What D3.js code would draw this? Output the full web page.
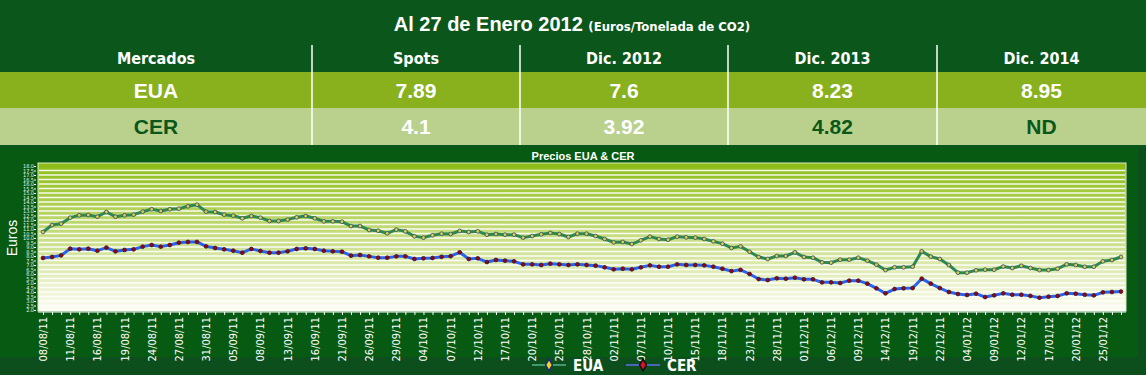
<!DOCTYPE html>
<html>
<head>
<meta charset="utf-8">
<script src="https://cdn.jsdelivr.net/npm/d3@7"></script>
<style>
  body { margin: 0; background: #0c4f1d; }
  svg { display: block; }
  .cond { font-family: "Liberation Sans Narrow", "DejaVu Sans Condensed", "Liberation Sans", sans-serif; }
  .bold { font-family: "Liberation Sans", Arial, sans-serif; font-weight: bold; }
</style>
</head>
<body>
<div id="chart"></div>
<script>
// summary table
const tableCols = ["Mercados", "Spots", "Dic. 2012", "Dic. 2013", "Dic. 2014"];
const euaRow = ["EUA", "7.89", "7.6", "8.23", "8.95"];
const cerRow = ["CER", "4.1", "3.92", "4.82", "ND"];

// x tick labels, one every third trading day
const tickLabels = ["08/08/11", "11/08/11", "16/08/11", "19/08/11", "24/08/11", "27/08/11", "31/08/11",
  "05/09/11", "08/09/11", "13/09/11", "16/09/11", "21/09/11", "26/09/11", "29/09/11", "04/10/11",
  "07/10/11", "12/10/11", "17/10/11", "20/10/11", "25/10/11", "28/10/11", "02/11/11", "07/11/11",
  "10/11/11", "15/11/11", "18/11/11", "23/11/11", "28/11/11", "01/12/11", "06/12/11", "09/12/11",
  "14/12/11", "19/12/11", "22/12/11", "04/01/12", "09/01/12", "12/01/12", "17/01/12", "20/01/12",
  "25/01/12"];

// daily prices (Euros)
const euaValues = [10.67, 11.44, 11.59, 12.26, 12.52, 12.56, 12.37, 12.89, 12.37, 12.52,
  12.59, 12.93, 13.19, 13.0, 13.19, 13.26, 13.52, 13.70, 12.93, 12.89,
  12.59, 12.48, 12.19, 12.44, 12.26, 11.89, 11.89, 12.04, 12.30, 12.44,
  12.19, 11.85, 11.85, 11.81, 11.33, 11.33, 10.89, 10.81, 10.52, 10.93,
  10.74, 10.19, 10.04, 10.30, 10.48, 10.44, 10.78, 10.67, 10.74, 10.37,
  10.44, 10.37, 10.37, 10.04, 10.22, 10.41, 10.56, 10.44, 10.11, 10.48,
  10.48, 10.22, 9.89, 9.52, 9.56, 9.33, 9.74, 10.15, 9.89, 9.81,
  10.15, 10.07, 10.04, 9.89, 9.63, 9.37, 8.89, 9.07, 8.48, 7.89,
  7.67, 8.0, 8.0, 8.41, 7.89, 7.81, 7.30, 7.26, 7.59, 7.59,
  7.81, 7.48, 7.04, 6.44, 6.74, 6.74, 6.81, 8.52, 7.93, 7.67,
  7.0, 6.15, 6.15, 6.41, 6.48, 6.48, 6.83, 6.67, 6.91, 6.67,
  6.44, 6.44, 6.59, 7.07, 7.0, 6.81, 6.81, 7.41, 7.56, 7.89];
const cerValues = [7.78, 7.89, 8.07, 8.81, 8.74, 8.81, 8.59, 8.93, 8.52, 8.67,
  8.74, 9.04, 9.22, 9.04, 9.22, 9.48, 9.56, 9.56, 9.07, 8.89,
  8.74, 8.59, 8.37, 8.78, 8.56, 8.37, 8.37, 8.52, 8.78, 8.85,
  8.78, 8.59, 8.52, 8.48, 8.04, 8.11, 7.96, 7.81, 7.81, 7.96,
  7.96, 7.67, 7.74, 7.78, 7.91, 7.98, 8.41, 7.67, 7.74, 7.33,
  7.56, 7.48, 7.41, 7.07, 7.07, 7.0, 7.15, 7.07, 7.0, 7.07,
  7.0, 6.93, 6.74, 6.52, 6.59, 6.52, 6.74, 6.96, 6.81, 6.81,
  7.07, 7.0, 7.0, 6.96, 6.81, 6.59, 6.32, 6.46, 6.0, 5.44,
  5.33, 5.52, 5.48, 5.59, 5.41, 5.41, 5.07, 5.07, 5.0, 5.26,
  5.26, 4.93, 4.41, 3.85, 4.33, 4.41, 4.44, 5.48, 4.93, 4.44,
  4.0, 3.78, 3.67, 3.81, 3.44, 3.63, 3.85, 3.70, 3.70, 3.57,
  3.37, 3.48, 3.56, 3.85, 3.81, 3.70, 3.63, 3.96, 4.0, 4.05];

const yTicks = d3.range(2, 18.01, 0.5);

const W = 1146, H = 375;
const svg = d3.select("#chart").append("svg").attr("width", W).attr("height", H);

// ---------- header / table ----------
svg.append("rect").attr("width", W).attr("height", 148).attr("fill", "#0b561a");

const title = svg.append("text").attr("x", 572).attr("y", 31).attr("text-anchor", "middle")
  .attr("fill", "#fff");
title.append("tspan").attr("class", "bold").attr("font-size", 20).text("Al 27 de Enero 2012 ");
title.append("tspan").attr("class", "cond").attr("font-weight", "bold").attr("font-size", 13)
  .text("(Euros/Tonelada de CO2)");

const colEdges = [0, 312, 520, 728, 937, 1146];
const colX = d3.range(5).map(i => (colEdges[i] + colEdges[i + 1]) / 2);

svg.append("rect").attr("y", 72).attr("width", W).attr("height", 36).attr("fill", "#89b11d");
svg.append("rect").attr("y", 108).attr("width", W).attr("height", 37).attr("fill", "#b9d18c");

svg.selectAll(".colHead").data(tableCols).join("text")
  .attr("class", "cond colHead")
  .attr("x", (d, i) => colX[i]).attr("y", 64)
  .attr("text-anchor", "middle").attr("fill", "#fff")
  .attr("font-size", 16).attr("font-weight", "bold").text(d => d);

svg.selectAll(".eua").data(euaRow).join("text")
  .attr("class", "bold eua")
  .attr("x", (d, i) => colX[i]).attr("y", 98)
  .attr("text-anchor", "middle").attr("fill", "#fff")
  .attr("font-size", 21).text(d => d);

const cerDark = [true, false, false, true, true];
svg.selectAll(".cer").data(cerRow).join("text")
  .attr("class", "bold cer")
  .attr("x", (d, i) => colX[i]).attr("y", 134)
  .attr("text-anchor", "middle").attr("fill", (d, i) => cerDark[i] ? "#0b561a" : "#fff")
  .attr("font-size", 21).text(d => d);

svg.selectAll(".sep").data(colEdges.slice(1, 5)).join("line")
  .attr("x1", d => d).attr("x2", d => d).attr("y1", 45).attr("y2", 145)
  .attr("stroke", "#fff").attr("stroke-width", 1.5);

// ---------- chart panel ----------
svg.append("rect").attr("y", 148).attr("width", 1138).attr("height", 209).attr("fill", "#075a12");

const x = d3.scaleLinear().domain([0, euaValues.length - 1]).range([43, 1121]);
const y = d3.scaleLinear().domain([2, 18]).range([310, 166]);

const defs = svg.append("defs");
const grad = defs.append("linearGradient").attr("id", "bg").attr("x1", 0).attr("x2", 0).attr("y1", 0).attr("y2", 1);
grad.append("stop").attr("offset", "0%").attr("stop-color", "#8cbc14");
grad.append("stop").attr("offset", "45%").attr("stop-color", "#c2da77");
grad.append("stop").attr("offset", "100%").attr("stop-color", "#fdfdf4");

svg.append("rect").attr("x", 38).attr("y", 163).attr("width", 1088).attr("height", 148)
  .attr("fill", "url(#bg)").attr("stroke", "#dfe9c8").attr("stroke-width", 1);

svg.append("text").attr("class", "bold").attr("x", 583).attr("y", 160)
  .attr("text-anchor", "middle").attr("fill", "#fff").attr("font-size", 11)
  .text("Precios EUA & CER");

// gridlines
svg.append("g").selectAll("line").data(yTicks.slice(0, -1)).join("line")
  .attr("x1", 39).attr("x2", 1125)
  .attr("y1", d => y(d)).attr("y2", d => y(d))
  .attr("stroke", "#fff").attr("stroke-opacity", 0.9).attr("stroke-width", 1.3);

// y axis
const yAxis = svg.append("g").attr("transform", "translate(36,0)")
  .call(d3.axisLeft(y).tickValues(yTicks).tickFormat(d3.format(".1f")).tickSize(2));
yAxis.select(".domain").remove();
yAxis.selectAll("line").attr("stroke", "#fff");
yAxis.selectAll("text").attr("fill", "#e8f0e0").attr("font-size", 5.5)
  .attr("font-family", "DejaVu Sans Condensed, sans-serif").attr("x", -2);

svg.append("text")
  .attr("transform", "translate(17,238) rotate(-90)")
  .attr("text-anchor", "middle").attr("fill", "#fff").attr("font-size", 14)
  .attr("font-family", "Liberation Sans, Arial, sans-serif").text("Euros");

// x axis
const xAxis = svg.append("g").attr("transform", "translate(0,312)")
  .call(d3.axisBottom(x).tickValues(d3.range(euaValues.length)).tickSize(3).tickFormat(""));
xAxis.select(".domain").attr("stroke", "#fff").attr("d", "M38,0H1126");
xAxis.selectAll("line").attr("stroke", "#fff");

svg.append("g").selectAll("text").data(tickLabels).join("text")
  .attr("class", "cond")
  .attr("transform", (d, i) => `translate(${x(i * 3) + 4},317) rotate(-90)`)
  .attr("text-anchor", "end").attr("fill", "#fff")
  .attr("font-size", 11).text(d => d);

// lines
const line = d3.line().x((d, i) => x(i)).y(d => y(d));

const series = [
  { name: "EUA", values: euaValues, stroke: "#2a8a52", fill: "#d8cf4a", outline: "#3b4a66" },
  { name: "CER", values: cerValues, stroke: "#2a62f0", fill: "#a00010", outline: "#3a1a1a" }
];

series.forEach(s => {
  svg.append("path").datum(s.values).attr("d", line)
    .attr("fill", "none").attr("stroke", s.stroke).attr("stroke-width", 3)
    .attr("stroke-linejoin", "round");
  svg.append("g").selectAll("circle").data(s.values).join("circle")
    .attr("cx", (d, i) => x(i)).attr("cy", d => y(d)).attr("r", 1.9)
    .attr("fill", s.fill).attr("stroke", s.outline).attr("stroke-width", 0.8);
});

// legend
const legend = [
  { name: "EUA", x: 532, stroke: "#3f9a6e", fill: "#f2d21a", outline: "#1a2a7a" },
  { name: "CER", x: 626, stroke: "#4a66b8", fill: "#e01020", outline: "#101010" }
];
const lg = svg.append("g");
legend.forEach(l => {
  lg.append("line").attr("x1", l.x).attr("x2", l.x + 34).attr("y1", 365).attr("y2", 365)
    .attr("stroke", l.stroke).attr("stroke-width", 2);
  lg.append("path").attr("d", d3.symbol(d3.symbolDiamond, 40)())
    .attr("transform", `translate(${l.x + 17},365)`)
    .attr("fill", l.fill).attr("stroke", l.outline).attr("stroke-width", 1.5);
  lg.append("text").attr("class", "cond").attr("x", l.x + 41).attr("y", 371)
    .attr("fill", "#fff").attr("font-size", 15).attr("font-weight", "bold").text(l.name);
});
</script>
</body>
</html>
